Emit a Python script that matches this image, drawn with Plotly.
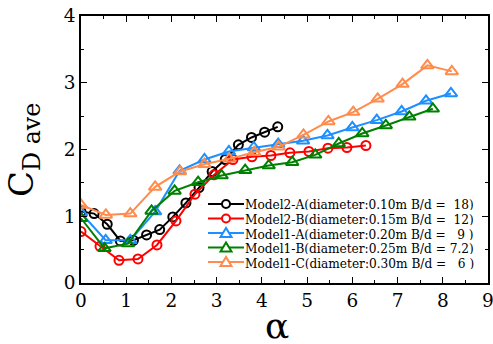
import plotly.graph_objects as go

# Model2-A
x_m2a = [0, 0.29, 0.58, 0.87, 1.16, 1.45, 1.74, 2.03, 2.32, 2.61, 2.9, 3.19, 3.48, 3.77, 4.06, 4.35]
y_m2a = [1.07, 1.04, 0.88, 0.63, 0.64, 0.72, 0.80, 0.99, 1.20, 1.43, 1.67, 1.85, 2.07, 2.18, 2.26, 2.34]
# Model2-B
x_m2b = [0, 0.42, 0.84, 1.26, 1.68, 2.1, 2.52, 2.94, 3.36, 3.78, 4.2, 4.62, 5.04, 5.46, 5.88, 6.3]
y_m2b = [0.77, 0.55, 0.34, 0.36, 0.57, 0.93, 1.33, 1.62, 1.85, 1.89, 1.91, 1.95, 1.97, 2.02, 2.03, 2.06]
# Model1-A
x_m1a = [0, 0.545, 1.09, 1.64, 2.18, 2.73, 3.27, 3.82, 4.36, 4.91, 5.45, 6.0, 6.54, 7.09, 7.63, 8.18]
y_m1a = [1.05, 0.64, 0.64, 1.07, 1.68, 1.85, 1.97, 2.03, 2.08, 2.13, 2.21, 2.33, 2.44, 2.57, 2.73, 2.84]
# Model1-B
x_m1b = [0, 0.52, 1.04, 1.56, 2.07, 2.59, 3.11, 3.63, 4.15, 4.67, 5.18, 5.70, 6.22, 6.74, 7.26, 7.78]
y_m1b = [0.97, 0.52, 0.59, 1.08, 1.38, 1.51, 1.61, 1.69, 1.76, 1.81, 1.92, 2.09, 2.24, 2.36, 2.49, 2.61]
# Model1-C
x_m1c = [0, 0.55, 1.09, 1.64, 2.19, 2.73, 3.28, 3.83, 4.37, 4.92, 5.47, 6.02, 6.56, 7.11, 7.66, 8.2]
y_m1c = [1.17, 1.02, 1.04, 1.44, 1.67, 1.78, 1.86, 1.96, 2.04, 2.22, 2.42, 2.56, 2.76, 2.98, 3.26, 3.17]

names = [
    "Model2-A(diameter:0.10m B/d =  18)",
    "Model2-B(diameter:0.15m B/d =  12)",
    "Model1-A(diameter:0.20m B/d =   9 )",
    "Model1-B(diameter:0.25m B/d = 7.2)",
    "Model1-C(diameter:0.30m B/d =   6 )",
]
colors = ["#000000", "#ff0000", "#1e8fff", "#008000", "#ff8c4c"]
symbols = ["circle-open", "circle-open", "triangle-up-open", "triangle-up-open", "triangle-up-open"]
sizes = [9, 9, 11, 11, 11]
xs = [x_m2a, x_m2b, x_m1a, x_m1b, x_m1c]
ys = [y_m2a, y_m2b, y_m1a, y_m1b, y_m1c]

serif = "DejaVu Serif"
serif_c = "DejaVu Serif Condensed, DejaVu Serif"

fig = go.Figure()
for x, y, n, c, s, sz in zip(xs, ys, names, colors, symbols, sizes):
    fig.add_trace(go.Scatter(
        x=x, y=y, name=n, mode="lines+markers", showlegend=False,
        line=dict(color=c, width=2),
        marker=dict(symbol=s, size=sz, color=c, line=dict(color=c, width=2)),
    ))

# manual compact legend (decoration), placed in plot-domain fractions
L_W, T_H = 407.0, 267.0
def fx(px):
    return (px - 81) / L_W
def fy(py):
    return (283 - py) / T_H

for i, (n, c, s) in enumerate(zip(names, colors, symbols)):
    py = 204 + i * 14.5
    fig.add_shape(type="line", xref="x domain", yref="y domain",
                  x0=fx(208), x1=fx(244), y0=fy(py), y1=fy(py),
                  line=dict(color=c, width=2))
    cx, cy = 226, py
    if s.startswith("circle"):
        fig.add_shape(type="circle", xref="x domain", yref="y domain",
                      x0=fx(cx - 4), x1=fx(cx + 4), y0=fy(cy + 4), y1=fy(cy - 4),
                      line=dict(color=c, width=2), fillcolor="white")
    else:
        path = "M {0},{1} L {2},{3} L {4},{5} Z".format(
            fx(cx), fy(cy - 5), fx(cx - 5.5), fy(cy + 4), fx(cx + 5.5), fy(cy + 4))
        fig.add_shape(type="path", xref="x domain", yref="y domain", path=path,
                      line=dict(color=c, width=2), fillcolor="white")
    fig.add_annotation(xref="x domain", yref="y domain", x=fx(244), y=fy(py),
                       xanchor="left", yanchor="middle", showarrow=False,
                       height=13, borderpad=0, valign="middle",
                       text=n, font=dict(family=serif_c, size=13.5, color="black"))

axis_common = dict(
    showline=True, linecolor="black", linewidth=1.5, mirror="ticks",
    ticks="inside", ticklen=6, tickwidth=1.2, tickcolor="black",
    showgrid=False, zeroline=False, automargin=False,
    tickfont=dict(family=serif, size=18.5, color="black"),
    minor=dict(ticks="inside", ticklen=3, tickwidth=1, tickcolor="black", dtick=0.5, showgrid=False),
)
fig.update_xaxes(range=[0, 9], dtick=1, tick0=0, ticklabeloverflow="allow", **axis_common)
fig.update_yaxes(range=[0, 4], dtick=1, tick0=0, ticklabelstandoff=0, **axis_common)

# axis titles
fig.add_annotation(xref="paper", yref="paper", x=fx(277), y=fy(325),
                   xanchor="center", yanchor="middle", showarrow=False,
                   height=30, borderpad=0, valign="middle",
                   text="α", font=dict(family=serif, size=36, color="black"))
fig.add_annotation(xref="paper", yref="paper", x=fx(23), y=fy(150),
                   xanchor="center", yanchor="middle", showarrow=False, textangle=-90,
                   text="C<sub>D ave</sub>", font=dict(family=serif, size=34, color="black"))

fig.update_layout(
    width=493, height=344,
    margin=dict(l=81, r=5, t=16, b=61),
    plot_bgcolor="white", paper_bgcolor="white",
    showlegend=False,
)

fig.write_html("out.html", config={"displayModeBar": False},
               post_script="document.body.style.margin='0';")
